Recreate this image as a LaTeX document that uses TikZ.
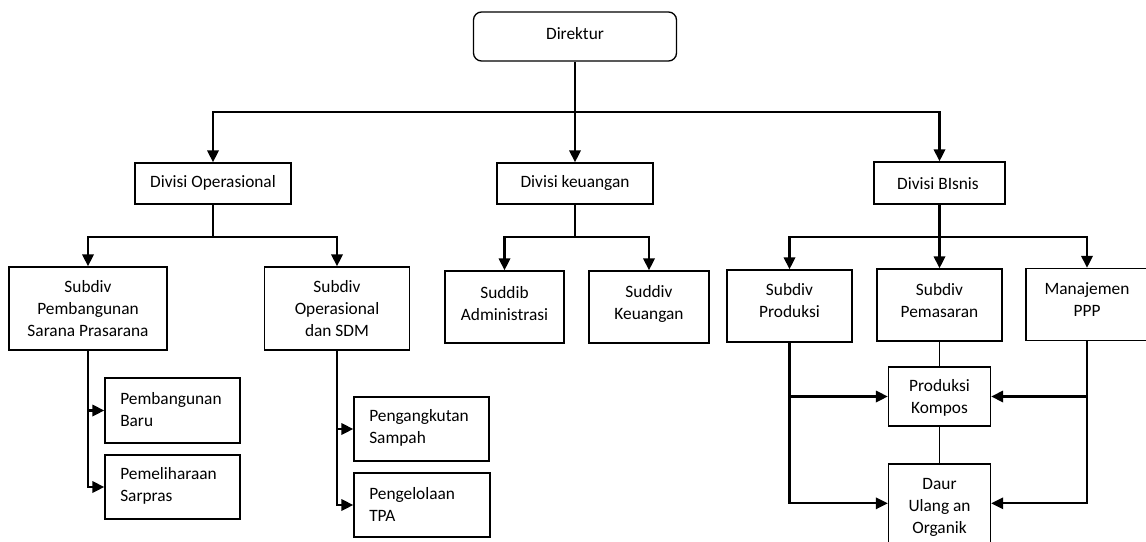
\documentclass[tikz,border=0pt]{standalone}
\usepackage{fontspec}
\setmainfont{Carlito}
\usetikzlibrary{arrows.meta,calc}
\begin{document}
\begin{tikzpicture}[x=0.75pt,y=-0.75pt,
  >={Triangle[length=9pt,width=8.5pt]},
  wh/.style 2 args={minimum width=#1*0.75pt,minimum height=#2*0.75pt},
  box/.style={draw,line width=1pt,inner sep=0pt,fill=white},
  txt/.style={inner sep=0pt,align=center,font=\fontsize{13}{16.5}\selectfont},
  ltxt/.style={inner sep=0pt,align=left,anchor=west,font=\fontsize{13}{16.5}\selectfont},
  conn/.style={line width=1.7pt},
  thin/.style={line width=0.9pt}]
\useasboundingbox (0,0) rectangle (1146,542);
\clip (0,0) rectangle (1146,542);

% top level
\node[box,wh={203}{49},rounded corners=6pt] (dir) at (575,36.5) {};
\node[txt] at (575,34) {Direktur};

% divisions
\node[box,wh={156}{41}] (dop) at (213,183.5) {};
\node[txt] at (213,183) {Divisi Operasional};
\node[box,wh={156}{41}] (dke) at (575,183.5) {};
\node[txt] at (575,183) {Divisi keuangan};
\node[box,wh={131}{42}] (dbi) at (939.5,183) {};
\node[txt] at (938,184) {Divisi BIsnis};

% operational subdivisions
\node[box,wh={158}{83}] (spb) at (88,308.5) {};
\node[txt] at (88,309) {Subdiv\\Pembangunan\\Sarana Prasarana};
\node[box,wh={145}{83}] (sos) at (337,308.5) {};
\node[txt] at (337,309) {Subdiv\\Operasional\\dan SDM};

% finance subdivisions
\node[box,wh={119}{72}] (sad) at (504.5,307) {};
\node[txt] at (504.5,304) {Suddib\\Administrasi};
\node[box,wh={120}{72}] (sku) at (649,307) {};
\node[txt] at (649,304) {Suddiv\\Keuangan};

% business subdivisions
\node[box,wh={125}{72}] (spr) at (789.5,306) {};
\node[txt] at (789.5,301) {Subdiv\\Produksi};
\node[box,wh={125}{72}] (spm) at (939.5,305) {};
\node[txt] at (939.5,300.5) {Subdiv\\Pemasaran};
\node[box,wh={122}{72}] (mpp) at (1087,304.5) {};
\node[txt] at (1087,300) {Manajemen\\PPP};

% business units
\node[box,wh={102}{59}] (pk) at (939.5,396.5) {};
\node[txt] at (939.5,398) {Produksi\\Kompos};
\node[box,wh={102}{92}] (dau) at (939.5,510) {};
\node[txt] at (939.5,507) {Daur\\Ulang an\\Organik};

% operational units
\node[box,wh={135}{65}] (pb) at (172.5,410.5) {};
\node[ltxt] at (120,409.5) {Pembangunan\\Baru};
\node[box,wh={135}{64}] (pm) at (172.5,487) {};
\node[ltxt] at (120,486) {Pemeliharaan\\Sarpras};
\node[box,wh={135}{64}] (pa) at (421.5,429) {};
\node[ltxt] at (369,428) {Pengangkutan\\Sampah};
\node[box,wh={136}{64}] (pt) at (422,505) {};
\node[ltxt] at (369,504) {Pengelolaan\\TPA};

% branch points
\coordinate (b1) at (575,112);
\coordinate (b2op) at (213,237);
\coordinate (b2ke) at (575,237);
\coordinate (b2bi) at (939.5,237);

% director to divisions
\draw[conn,->] (dir.south) -- (dke.north);
\draw[conn,->] (b1) -| (dop.north);
\draw[conn,->] (b1) -| (dbi.north);

% divisions to subdivisions
\draw[conn] (dop.south) -- (b2op);
\draw[conn,->] (b2op) -| (spb.north);
\draw[conn,->] (b2op) -| (sos.north);
\draw[conn] (dke.south) -- (b2ke);
\draw[conn,->] (b2ke) -| (sad.north);
\draw[conn,->] (b2ke) -| (sku.north);
\draw[conn] (dbi.south) -- (b2bi);
\draw[conn,->] (b2bi) -| (spr.north);
\draw[conn,->] (b2bi) -- (spm.north);
\draw[conn,->] (b2bi) -| (mpp.north);

% operational units
\draw[conn,->] (spb.south) |- (pm.west);
\draw[conn,->] (spb.south |- pb.west) -- (pb.west);
\draw[conn,->] (sos.south) |- (pt.west);
\draw[conn,->] (sos.south |- pa.west) -- (pa.west);

% business units
\draw[thin] (spm.south) -- (pk.north);
\draw[thin] (pk.south) -- (dau.north);
\draw[conn,->] (spr.south) |- ($(dau.north west)+(0,40)$);
\draw[conn,->] (spr.south |- pk.west) -- (pk.west);
\draw[conn,->] (mpp.south) |- ($(dau.north east)+(0,40)$);
\draw[conn,->] (mpp.south |- pk.east) -- (pk.east);
\end{tikzpicture}
\end{document}
